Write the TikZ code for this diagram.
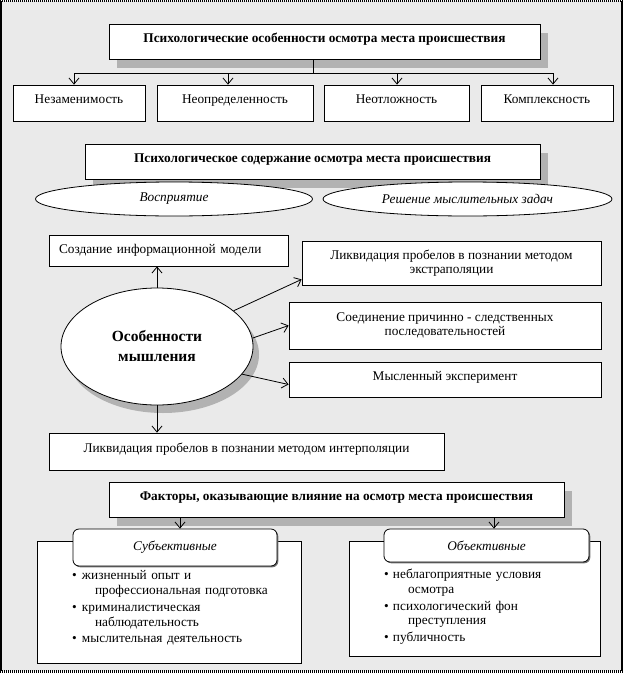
\documentclass[tikz,border=0pt]{standalone}
\usepackage{fontspec}
\setmainfont{Liberation Serif}
\usetikzlibrary{shapes.geometric,shadows,arrows.meta}
\definecolor{bgc}{HTML}{EAEAEA}
\definecolor{shd}{HTML}{B2B2B2}
\newcommand{\lbul}[1]{\hspace*{18pt}\makebox[10pt][l]{\textbullet}#1}
\newcommand{\lcont}[1]{\hspace*{41pt}#1}
\newcommand{\rbul}[1]{\hspace*{18pt}\makebox[9pt][l]{\textbullet}#1}
\newcommand{\rcont}[1]{\hspace*{42pt}#1}
\begin{document}
\begin{tikzpicture}[x=1pt,y=-1pt,
  every node/.style={font=\fontsize{13.3}{14.5}\selectfont},
  box/.style={draw=black, fill=white, line width=0.8pt, inner sep=0pt, align=center,
    drop shadow={shadow xshift=1.3pt, shadow yshift=-1.3pt, fill=black!55, opacity=1}},
  ttl/.style={draw=black, fill=white, line width=0.8pt, inner sep=0pt,
    font=\fontsize{13.3}{14.5}\selectfont\bfseries,
    drop shadow={shadow xshift=8pt, shadow yshift=-9pt, fill=shd, opacity=1}},
  raised/.style={text height=8pt, text depth=7pt},
  oval/.style={ellipse, draw=black, fill=white, line width=0.8pt, inner sep=0pt,
    font=\fontsize{13.3}{14.5}\selectfont\itshape},
  rbox/.style={draw=black, fill=white, line width=0.8pt, inner sep=0pt, rounded corners=6pt,
    font=\fontsize{13.3}{14.5}\selectfont\itshape,
    drop shadow={shadow xshift=1.3pt, shadow yshift=-1.3pt, fill=black!55, opacity=1}},
  arr/.style={draw=black, line width=0.8pt, -{Straight Barb[length=6pt,width=10pt]}},
  ln/.style={draw=black, line width=0.8pt},
]
\useasboundingbox (0,0) rectangle (626,675);
% frame
\fill[white] (0,0) rectangle (626,675);
\fill[bgc] (1,1) rectangle (622,671);
\draw[line width=1.2pt] (1,1) -- (1,671);
\draw[line width=1.2pt] (622,1) -- (622,671);
\draw[line width=2pt, dash pattern=on 1pt off 1pt] (0,1) -- (623,1);
\draw[line width=3pt, dash pattern=on 1pt off 1pt] (0,671) -- (623,671);

% section 1
\node[ttl, raised, minimum width=431pt, minimum height=35pt] (A) at (324.5,41.5)
  {Психологические особенности осмотра места происшествия};
\node[box, raised, minimum width=132pt, minimum height=36pt] (n1) at (79,103) {Незаменимость};
\node[box, raised, minimum width=156pt, minimum height=36pt] (n2) at (235,103) {Неопределенность};
\node[box, raised, minimum width=145pt, minimum height=36pt] (n3) at (396.5,103) {Неотложность};
\node[box, raised, minimum width=132pt, minimum height=36pt] (n4) at (547,103) {Комплексность};
\coordinate (bus) at (313,73);
\draw[ln] (A.south -| bus) -- (bus);
\draw[ln] ([xshift=-5pt]n1.north |- bus) -- ([xshift=6pt]n4.north |- bus);
\draw[arr] ([xshift=-5pt]n1.north |- bus) -- ([xshift=-5pt]n1.north);
\draw[arr] ([xshift=-7pt]n2.north |- bus) -- ([xshift=-7pt]n2.north);
\draw[arr] ([xshift=0.5pt]n3.north |- bus) -- ([xshift=0.5pt]n3.north);
\draw[arr] ([xshift=6pt]n4.north |- bus) -- ([xshift=6pt]n4.north);

% section 2
\node[ttl, raised, minimum width=455pt, minimum height=35pt] (B) at (312.5,161.5)
  {Психологическое содержание осмотра места происшествия};
\node[oval, minimum width=277pt, minimum height=34pt] (e1) at (174,199) {Восприятие};
\node[oval, minimum width=289pt, minimum height=34pt] (e2) at (467.5,199) {Решение мыслительных задач};

% section 3
\node[box, minimum width=239pt, minimum height=31pt, text width=219pt, align=left] (C) at (168.5,250.5)
  {Создание информационной модели};
\node[box, minimum width=299pt, minimum height=44pt] (E) at (451.5,263)
  {Ликвидация пробелов в познании методом\\экстраполяции};
\node[box, minimum width=312pt, minimum height=47pt] (F) at (445,325.5)
  {Соединение причинно - следственных\\последовательностей};
\node[box, raised, minimum width=312pt, minimum height=35pt] (G) at (445,379.5)
  {Мысленный эксперимент};
\node[ellipse, draw=black, fill=white, line width=0.8pt, inner sep=0pt, align=center,
  minimum width=192pt, minimum height=117pt,
  font=\fontsize{15.5}{20}\selectfont\bfseries,
  drop shadow={shadow xshift=6pt, shadow yshift=-8pt, fill=black!30, opacity=1}] (M) at (157,346.5)
  {Особенности\\мышления};
\node[box, raised, minimum width=395pt, minimum height=37pt] (I) at (246.5,451.5)
  {Ликвидация пробелов в познании методом интерполяции};
\draw[arr] (M.north) -- (M.north |- C.south);
\draw[arr] (M.south) -- (M.south |- I.north);
\draw[arr] (M.25) -- ([yshift=6pt]E.south west);
\draw[arr] (M.5) -- (F.west);
\draw[arr] (M.-18) -- ([yshift=-5pt]G.west);

% section 4
\node[ttl, raised, minimum width=455pt, minimum height=35pt] (H) at (336.5,499.5)
  {Факторы, оказывающие влияние на осмотр места происшествия};
\node[box, minimum width=264pt, minimum height=122pt, text width=230pt, align=left,
  font=\fontsize{13.3}{14.8}\selectfont] (L) at (169,602)
  {\rule{0pt}{21pt}\lbul{жизненный опыт и}\\
   \lcont{профессиональная подготовка}\\[2pt]
   \lbul{криминалистическая}\\
   \lcont{наблюдательность}\\[2pt]
   \lbul{мыслительная деятельность}};
\node[box, minimum width=251pt, minimum height=115pt, text width=217pt, align=left,
  font=\fontsize{13.3}{14.8}\selectfont] (R) at (474.5,598.5)
  {\rule{0pt}{26pt}\rbul{неблагоприятные условия}\\
   \rcont{осмотра}\\[2pt]
   \rbul{психологический фон}\\
   \rcont{преступления}\\[2pt]
   \rbul{публичность}};
\node[rbox, minimum width=204pt, minimum height=37pt] (Ls) at (175,547.5) {Субъективные};
\node[rbox, minimum width=205pt, minimum height=33pt] (Rs) at (486.5,545.5) {Объективные};
\draw[arr] ([xshift=5pt]Ls.north |- H.south) -- ([xshift=5pt]Ls.north);
\draw[arr] ([xshift=7.5pt]Rs.north |- H.south) -- ([xshift=7.5pt]Rs.north);
\end{tikzpicture}
\end{document}
